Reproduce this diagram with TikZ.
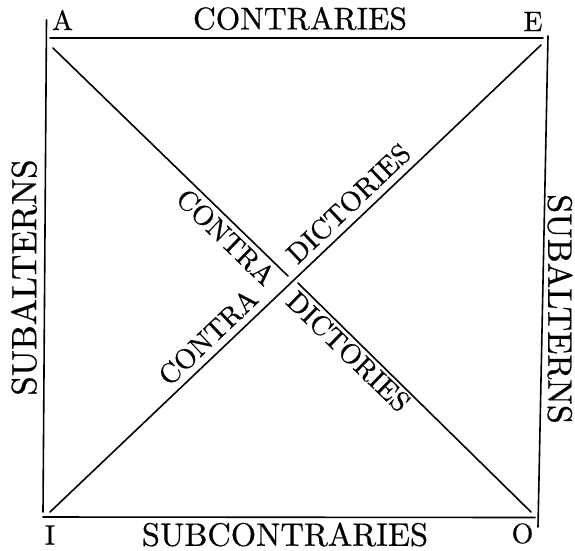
\documentclass[tikz,border=0pt]{standalone}
\usepackage{fontspec}
\setmainfont{lmroman10-regular}[Extension=.otf, FakeBold=0.6]
\begin{document}
\begin{tikzpicture}[x=1pt,y=-1pt,
  edge/.style={line width=1.6pt,line cap=round},
  lab/.style={inner sep=0pt,anchor=center},
  big/.style={lab,font=\fontsize{31.5}{32}\selectfont},
  diag/.style={lab,font=\fontsize{28}{28}\selectfont},
  corner/.style={lab,font=\fontsize{28}{28}\selectfont}]
\useasboundingbox (0,0) rectangle (575,550);
% corner coordinates
\coordinate (t1) at (50,38);
\coordinate (t2) at (543,38);
\coordinate (l1) at (46.5,20);
\coordinate (l2) at (43,512);
\coordinate (r1) at (548,36);
\coordinate (r2) at (538,527);
\coordinate (b1) at (43,517);
\coordinate (b2) at (535,517.5);
\coordinate (ao1) at (53,48);
\coordinate (ao2) at (288,276);
\coordinate (ao3) at (298,283);
\coordinate (ao4) at (531,512);
\coordinate (ie1) at (50,512);
\coordinate (ie2) at (541,45);
% lines
\draw[edge] (t1) -- (t2);
\draw[edge] (l1) -- (l2);
\draw[edge] (r1) -- (r2);
\draw[edge] (b1) -- (b2);
\draw[edge] (ao1) -- (ao2);
\draw[edge] (ao3) -- (ao4);
\draw[edge] (ie1) -- (ie2);
% labels
\node[corner] (A) at (62.5,20) {A};
\node[corner] (E) at (533,21.5) {E};
\node[corner] (I) at (50,535) {I};
\node[corner] (O) at (522.5,533.5) {O};
\node[big] (contraries) at (300,18.5) {CONTRARIES};
\node[big,font=\fontsize{32.5}{33}\selectfont] (subcontraries) at (285,534.5) {SUBCONTRARIES};
\node[big,font=\fontsize{35}{35}\selectfont,rotate=90] (subL) at (24,277.5) {SUBALTERNS};
\node[big,font=\fontsize{34}{34}\selectfont,rotate=-90] (subR) at (560,309) {SUBALTERNS};
\node[diag,rotate=-44] (c1) at (226,237) {CONTRA};
\node[diag,rotate=43.6] (d1) at (348.5,203.5) {DICTORIES};
\node[diag,rotate=43.6] (c2) at (208,337) {CONTRA};
\node[diag,rotate=-44] (d2) at (348.5,351.5) {DICTORIES};
\end{tikzpicture}
\end{document}
